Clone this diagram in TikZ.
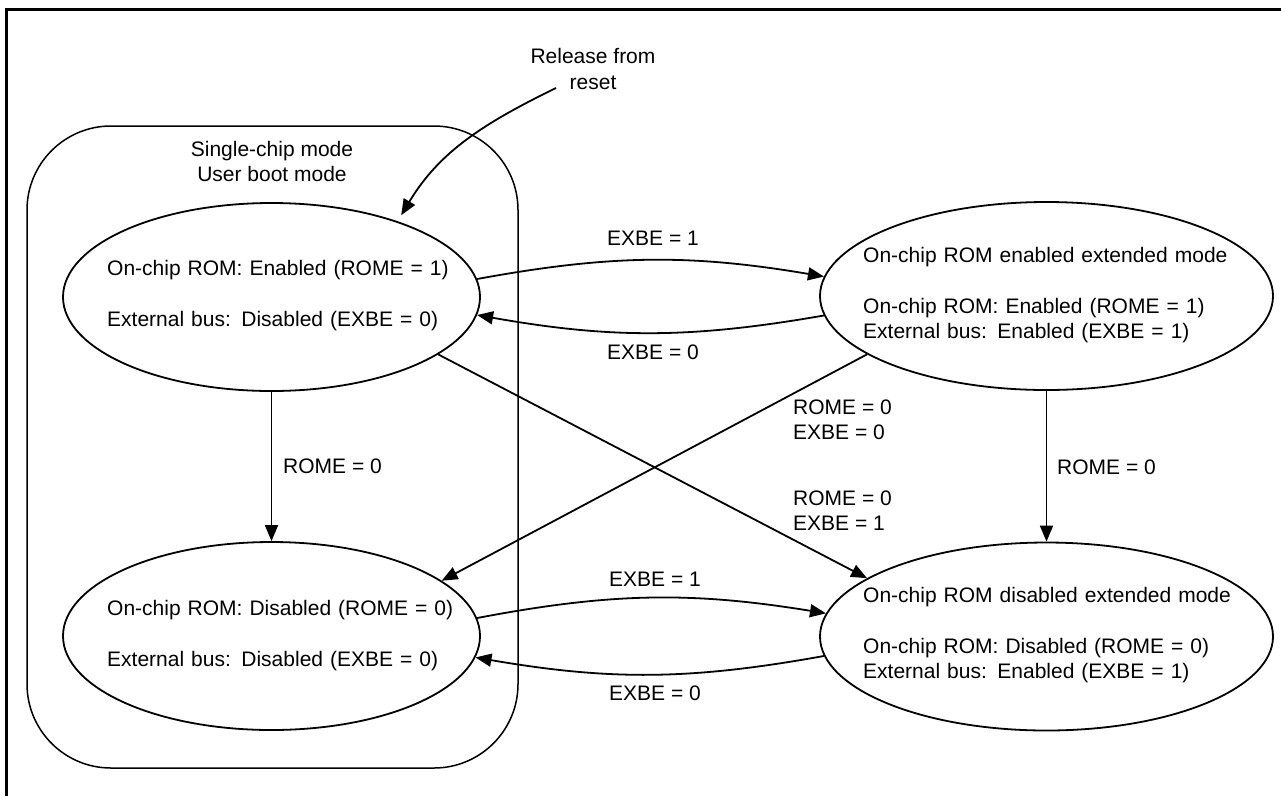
\documentclass[tikz,border=0pt]{standalone}
\usepackage{fontspec}
\setmainfont{Liberation Sans}
\usetikzlibrary{shapes.geometric,arrows.meta}
\begin{document}
\begin{tikzpicture}[x=1pt,y=1pt,
  every node/.style={font=\fontsize{21}{25.5}\selectfont, inner sep=0pt},
  state/.style={draw, ellipse, line width=1.8pt, inner sep=0pt},
  smallstate/.style={state, minimum width=417pt, minimum height=188pt},
  bigstate/.style={state, minimum width=453pt, minimum height=188pt},
  statetext/.style={anchor=west, text width=400pt, align=left},
  conn/.style={line width=1.8pt, -{Triangle[length=16pt,width=13pt]}},
  lbl/.style={align=left},
  frameline/.style={line width=3pt},
  group/.style={line width=1.5pt, rounded corners=84pt}
]
\useasboundingbox (0,0) rectangle (1281,-796);
% outer frame (top and left edges)
\draw[frameline] (6.5,-796) -- (6.5,-9.5) -- (1281,-9.5);
% group
\draw[group] (27,-126) rectangle (518,-768);
\node[align=center] (grp) at (272,-161.5) {Single-chip mode\\User boot mode};
\node[align=center] (rel) at (593,-69) {Release from\\reset};
% states
\node[smallstate] (e1) at (271.5,-297) {};
\node[bigstate]   (e2) at (1046.5,-296) {};
\node[smallstate] (e3) at (271.5,-636) {};
\node[bigstate]   (e4) at (1046.5,-636.5) {};
\node[statetext] (t1) at (107,-296) {On-chip ROM: Enabled (ROME = 1)\\[25.5pt]External bus: Disabled (EXBE = 0)};
\node[statetext] (t2) at (863,-295) {On-chip ROM enabled extended mode\\[25.5pt]On-chip ROM: Enabled (ROME = 1)\\External bus: Enabled (EXBE = 1)};
\node[statetext] (t3) at (107,-636) {On-chip ROM: Disabled (ROME = 0)\\[25.5pt]External bus: Disabled (EXBE = 0)};
\node[statetext] (t4) at (863,-635) {On-chip ROM disabled extended mode\\[25.5pt]On-chip ROM: Disabled (ROME = 0)\\External bus: Enabled (EXBE = 1)};
% reset arrow
\coordinate (rs) at (556,-88);
\draw[conn, shorten >=7pt] (rs) to[out=206, in=59] (e1.31);
% connectors
\draw[conn] (e1.5.6) to[bend left=10] (e2.175.1);
\draw[conn] (e2.185.4) to[bend left=10] (e1.-5.5);
\draw[conn] (e3.5.2) to[bend left=10] (e4.174.7);
\draw[conn] (e4.185) to[bend left=10] (e3.-6);
\draw[conn] (e1.south) -- (e3.north);
\draw[conn] (e2.south) -- (e4.north);
\draw[conn] (e1.-19.7) -- (e4.162);
\draw[conn] (e2.198.3) -- (e3.18.7);
% labels
\node (l1) at (653,-238) {EXBE = 1};
\node (l2) at (653,-352) {EXBE = 0};
\node (l3) at (655,-579) {EXBE = 1};
\node (l4) at (655,-693) {EXBE = 0};
\node[anchor=west] (l5) at (283,-466) {ROME = 0};
\node[anchor=west] (l6) at (1057,-467) {ROME = 0};
\node[lbl, anchor=west] (l7) at (793,-420) {ROME = 0\\EXBE = 0};
\node[lbl, anchor=west] (l8) at (793,-510.5) {ROME = 0\\EXBE = 1};
\end{tikzpicture}
\end{document}
